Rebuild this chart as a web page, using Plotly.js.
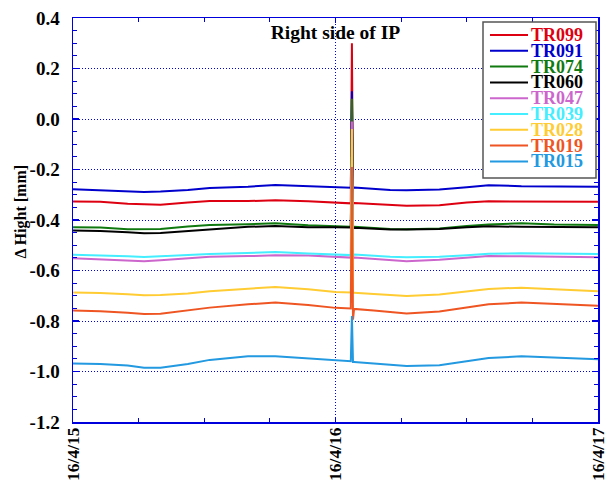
<!DOCTYPE html>
<html>
<head>
<meta charset="utf-8">
<script src="https://cdn.plot.ly/plotly-3.0.1.min.js"></script>
<style>html,body{margin:0;padding:0;background:#fff;}#chart{width:605px;height:482px;}</style>
</head>
<body>
<div id="chart"></div>
<script>
// Time stamps (shared by all series)
const times = [
  '2016-04-15 00:00','2016-04-15 02:30','2016-04-15 05:00','2016-04-15 06:30','2016-04-15 08:00',
  '2016-04-15 10:30','2016-04-15 12:30','2016-04-15 16:00','2016-04-15 18:30','2016-04-15 21:30',
  '2016-04-16 00:00','2016-04-16 01:24','2016-04-16 01:30','2016-04-16 01:36','2016-04-16 01:42',
  '2016-04-16 03:30','2016-04-16 05:00','2016-04-16 06:30','2016-04-16 09:30','2016-04-16 12:00',
  '2016-04-16 14:00','2016-04-16 17:00','2016-04-16 20:00','2016-04-17 00:00'
];

const seriesNames = ['TR099','TR091','TR074','TR060','TR047','TR039','TR028','TR019','TR015'];
const seriesColors = ['#dd0011','#0000cc','#107a10','#000000','#cc66cc','#44eeff','#ffcc33','#ee5522','#2299e0'];

const TR099 = [-0.327,-0.328,-0.336,-0.339,-0.340,-0.331,-0.325,-0.325,-0.322,-0.326,-0.331,-0.334, 0.300,-0.334,-0.333,-0.337,-0.343,-0.344,-0.342,-0.331,-0.326,-0.326,-0.327,-0.328];
const TR091 = [-0.278,-0.282,-0.289,-0.289,-0.287,-0.281,-0.273,-0.268,-0.261,-0.265,-0.268,-0.272, 0.110,-0.272,-0.271,-0.276,-0.281,-0.282,-0.279,-0.270,-0.262,-0.266,-0.268,-0.268];
const TR074 = [-0.429,-0.430,-0.437,-0.437,-0.436,-0.426,-0.420,-0.417,-0.413,-0.421,-0.425,-0.427, 0.080,-0.428,-0.427,-0.432,-0.436,-0.437,-0.434,-0.424,-0.418,-0.413,-0.418,-0.420];
const TR060 = [-0.442,-0.444,-0.449,-0.452,-0.451,-0.444,-0.437,-0.427,-0.424,-0.429,-0.429,-0.430,-0.100,-0.432,-0.431,-0.435,-0.438,-0.438,-0.436,-0.429,-0.425,-0.427,-0.429,-0.429];
const TR047 = [-0.551,-0.555,-0.560,-0.563,-0.559,-0.552,-0.546,-0.543,-0.540,-0.541,-0.548,-0.549,-0.010,-0.550,-0.549,-0.554,-0.560,-0.563,-0.557,-0.550,-0.543,-0.544,-0.546,-0.548];
const TR039 = [-0.538,-0.540,-0.544,-0.547,-0.545,-0.539,-0.535,-0.531,-0.527,-0.533,-0.536,-0.539,-0.150,-0.538,-0.537,-0.543,-0.546,-0.548,-0.546,-0.540,-0.534,-0.532,-0.534,-0.535];
const TR028 = [-0.687,-0.689,-0.694,-0.698,-0.697,-0.691,-0.682,-0.672,-0.665,-0.674,-0.685,-0.687,-0.040,-0.688,-0.688,-0.693,-0.698,-0.701,-0.695,-0.682,-0.673,-0.668,-0.674,-0.682];
const TR019 = [-0.758,-0.761,-0.767,-0.772,-0.771,-0.759,-0.747,-0.734,-0.727,-0.737,-0.748,-0.750,-0.190,-0.795,-0.752,-0.758,-0.765,-0.770,-0.762,-0.747,-0.734,-0.727,-0.733,-0.740];
const TR015 = [-0.968,-0.970,-0.976,-0.985,-0.985,-0.970,-0.954,-0.940,-0.940,-0.948,-0.956,-0.959,-0.780,-0.962,-0.962,-0.967,-0.973,-0.978,-0.975,-0.960,-0.947,-0.940,-0.944,-0.951];

const seriesValues = [TR099,TR091,TR074,TR060,TR047,TR039,TR028,TR019,TR015];

const xTickVals = ['2016-04-15', '2016-04-16', '2016-04-17'];
const xTickText = ['16/4/15', '16/4/16', '16/4/17'];
const yTickVals = [-1.2,-1.0,-0.8,-0.6,-0.4,-0.2,0.0,0.2,0.4];
const yTickText = ['-1.2','-1.0','-0.8','-0.6','-0.4','-0.2','0.0','0.2','0.4'];

const FONT = 'Liberation Serif, Times New Roman, serif';
const AXIS_BLUE = '#0000dd';

const traces = seriesNames.map((name, i) => ({
  type: 'scatter', mode: 'lines', name: name,
  x: times, y: seriesValues[i],
  line: {color: seriesColors[i], width: 2},
  showlegend: false
}));

// Custom legend (box, line samples, coloured labels) in paper coordinates
const plotL = 73, plotR = 598, plotT = 18, plotB = 422;
const px2x = p => (p - plotL) / (plotR - plotL);
const px2y = p => (plotB - p) / (plotB - plotT);

const shapes = [{
  type: 'rect', xref: 'paper', yref: 'paper',
  x0: px2x(483), x1: px2x(596), y0: px2y(178), y1: px2y(22),
  fillcolor: '#ffffff', line: {color: '#555555', width: 1.5}, layer: 'above'
}];
const annotations = [];
seriesNames.forEach((name, i) => {
  const rowY = px2y(35 + 15.8 * i);
  shapes.push({type: 'line', xref: 'paper', yref: 'paper',
    x0: px2x(490), x1: px2x(528), y0: rowY, y1: rowY,
    line: {color: seriesColors[i], width: 2}, layer: 'above'});
  annotations.push({xref: 'paper', yref: 'paper', x: px2x(529), y: rowY,
    xanchor: 'left', yanchor: 'middle', showarrow: false, text: name,
    font: {family: FONT, size: 18, weight: 'bold', color: seriesColors[i]}});
});

// y-axis title
annotations.push({xref: 'paper', yref: 'paper', x: px2x(20.5), y: px2y(212),
  xanchor: 'center', yanchor: 'middle', showarrow: false, textangle: -90,
  text: '\u0394 Hight [mm]',
  font: {family: FONT, size: 16, weight: 'bold', color: '#000000'}});

const layout = {
  width: 605, height: 482,
  margin: {l: plotL, r: 605 - plotR, t: plotT, b: 482 - plotB, pad: 0},
  paper_bgcolor: '#ffffff', plot_bgcolor: '#ffffff',
  showlegend: false,
  title: {text: 'Right side of IP', xref: 'paper', x: 0.5, xanchor: 'center',
    yref: 'paper', y: px2y(32), yanchor: 'middle',
    font: {family: FONT, size: 19.5, weight: 'bold', color: '#000000'}},
  xaxis: {
    type: 'date', range: ['2016-04-15 00:00', '2016-04-17 00:00'],
    tickvals: xTickVals, ticktext: xTickText,
    tickangle: -90, ticks: 'inside', ticklen: 5, tickwidth: 1.2, tickcolor: AXIS_BLUE,
    showline: true, linecolor: AXIS_BLUE, linewidth: 1.5, mirror: 'ticks',
    showgrid: true, gridcolor: AXIS_BLUE, gridwidth: 1, griddash: '1px,2px',
    zeroline: false, ticklabelstandoff: -3, ticklabeloverflow: 'allow',
    minor: {dtick: 21600000, tick0: '2016-04-15', ticks: 'inside', ticklen: 4, tickwidth: 1.2, tickcolor: AXIS_BLUE, showgrid: false},
    tickfont: {family: FONT, size: 17.5, weight: 'bold', color: '#000000'}
  },
  yaxis: {
    range: [-1.2, 0.4], tickvals: yTickVals, ticktext: yTickText,
    ticks: 'inside', ticklen: 6, tickwidth: 1.2, tickcolor: AXIS_BLUE,
    showline: true, linecolor: AXIS_BLUE, linewidth: 1.5, mirror: 'ticks',
    showgrid: true, gridcolor: AXIS_BLUE, gridwidth: 1, griddash: '1px,2px',
    zeroline: false, ticklabelstandoff: 8,
    minor: {dtick: 0.05, tick0: 0, ticks: 'inside', ticklen: 4, tickwidth: 1.2, tickcolor: AXIS_BLUE, showgrid: false},
    tickfont: {family: FONT, size: 19, weight: 'bold', color: '#000000'}
  },
  shapes: shapes,
  annotations: annotations
};

Plotly.newPlot('chart', traces, layout, {displayModeBar: false, staticPlot: true});
</script>
</body>
</html>
